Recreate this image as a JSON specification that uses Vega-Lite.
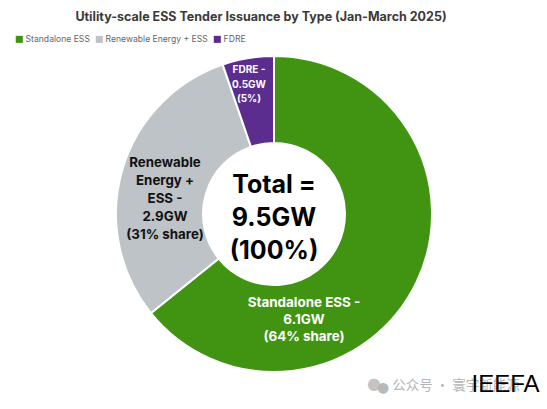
{"$schema":"https://vega.github.io/schema/vega-lite/v6.json","width":316,"height":316,"autosize":{"type":"none"},"padding":{"left":116,"top":56,"right":115,"bottom":37},"background":"#ffffff","title":{"text":"Utility-scale ESS Tender Issuance by Type (Jan-March 2025)","font":"Inter","fontSize":12.5,"fontWeight":700,"color":"#3a3a3a","anchor":"middle","offset":12,"dx":-13,"frame":"group"},"config":{"view":{"stroke":null},"title":{"baseline":"middle"}},"datasets":{"d":[{"type":"Standalone ESS","gw":6.1,"label":"Standalone ESS -\n6.1GW\n(64% share)"},{"type":"Renewable Energy + ESS","gw":2.9,"label":"Renewable\nEnergy +\nESS -\n2.9GW\n(31% share)"},{"type":"FDRE","gw":0.5,"label":"FDRE -\n0.5GW\n(5%)"}],"c":[{"label":"Total =\n9.5GW\n(100%)"}],"w":[{"wm":"公众号 · 寰宇新能源","src":"IEEFA","icon":"●"}]},"layer":[{"data":{"name":"d"},"mark":{"type":"arc","innerRadius":71,"outerRadius":158,"stroke":"#ffffff","strokeWidth":2},"encoding":{"theta":{"field":"gw","type":"quantitative","stack":true},"order":{"field":"gw","sort":"descending"},"color":{"field":"type","type":"nominal","scale":{"domain":["Standalone ESS","Renewable Energy + ESS","FDRE"],"range":["#409412","#bdc3c7","#5a2d8f"]},"legend":{"orient":"none","legendX":-101,"legendY":-21,"direction":"horizontal","title":null,"symbolType":"square","symbolSize":50,"symbolStrokeWidth":0,"labelFont":"Inter","labelFontSize":8.6,"labelColor":"#666666","columnPadding":5,"labelOffset":2,"symbolOpacity":1}}}},{"data":{"name":"d"},"transform":[{"filter":"datum.type==='Standalone ESS'"}],"mark":{"type":"text","font":"Inter","fontWeight":700,"fontSize":13.4,"color":"#ffffff","lineBreak":"\n","lineHeight":17,"dx":30,"dy":89},"encoding":{"text":{"field":"label"}}},{"data":{"name":"d"},"transform":[{"filter":"datum.type==='Renewable Energy + ESS'"}],"mark":{"type":"text","font":"Inter","fontWeight":700,"fontSize":13.3,"color":"#111111","lineBreak":"\n","lineHeight":18,"dx":-109,"dy":-51},"encoding":{"text":{"field":"label"}}},{"data":{"name":"d"},"transform":[{"filter":"datum.type==='FDRE'"}],"mark":{"type":"text","font":"Inter","fontWeight":700,"fontSize":10,"color":"#ffffff","lineBreak":"\n","lineHeight":14.5,"dx":-25,"dy":-144},"encoding":{"text":{"field":"label"}}},{"data":{"name":"c"},"mark":{"type":"text","font":"Inter","fontWeight":700,"fontSize":25,"color":"#000000","lineBreak":"\n","lineHeight":33,"dy":-29},"encoding":{"text":{"field":"label"}}},{"data":{"name":"w"},"mark":{"type":"text","font":"DejaVu Sans","fontSize":16,"color":"#c4c4c4","dx":100,"dy":170},"encoding":{"text":{"field":"icon"}}},{"data":{"name":"w"},"mark":{"type":"text","font":"DejaVu Sans","fontSize":14,"color":"#b8b8b8","dx":109,"dy":174},"encoding":{"text":{"field":"icon"}}},{"data":{"name":"w"},"mark":{"type":"text","font":"Noto Sans CJK SC","fontSize":13.5,"color":"#b5b5b5","dx":182,"dy":172},"encoding":{"text":{"field":"wm"}}},{"data":{"name":"w"},"mark":{"type":"text","font":"Liberation Sans","fontSize":24,"color":"#000000","dx":231.5,"dy":171},"encoding":{"text":{"field":"src"}}}]}
